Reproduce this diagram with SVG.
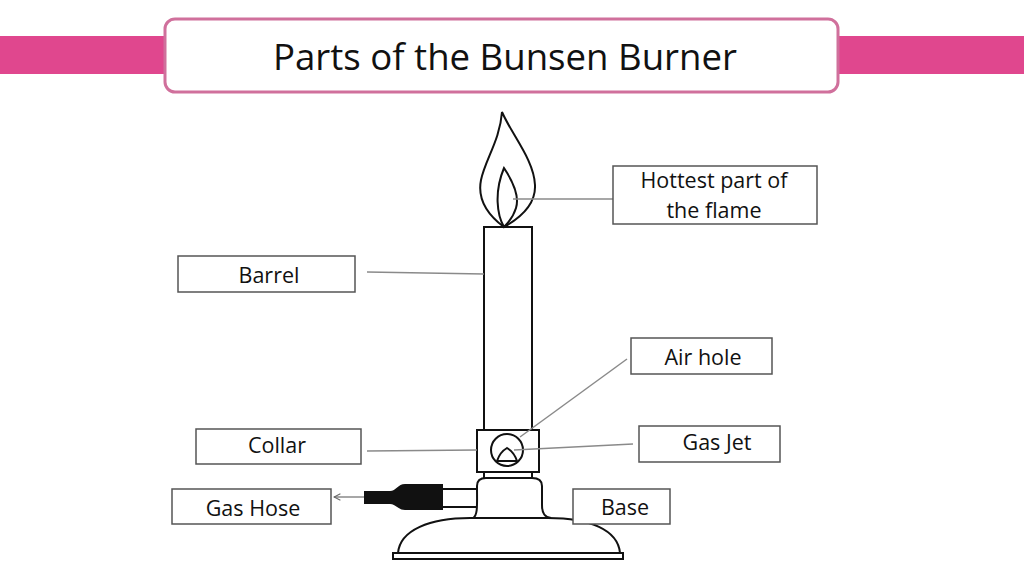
<svg xmlns="http://www.w3.org/2000/svg" width="1024" height="576" viewBox="0 0 1024 576">
<defs>
<style>
.lbl{fill:#fff;stroke:#555;stroke-width:1.5}
.txt{font-family:"Open Sans","Noto Sans",sans-serif;font-size:21.5px;fill:#111;text-anchor:middle}
.lead{stroke:#8a8a8a;stroke-width:1.5;fill:none}
.ink{stroke:#111;stroke-width:2;fill:#fff}
</style>
<marker id="open" viewBox="0 0 10 10" refX="9" refY="5" markerWidth="8" markerHeight="8" orient="auto" markerUnits="userSpaceOnUse">
<path d="M1,1 L9,5 L1,9" fill="none" stroke="#666" stroke-width="1.3"/>
</marker>
</defs>
<rect width="1024" height="576" fill="#fff"/>
<g id="title">
<rect x="0" y="36" width="1024" height="38" fill="#E0478E"/>
<rect x="165" y="19" width="673" height="73" rx="10" fill="#fff" stroke="#D0709C" stroke-width="3"/>
<text x="505" y="70" font-family="'Open Sans','Noto Sans',sans-serif" font-size="37" fill="#111" text-anchor="middle" textLength="464" lengthAdjust="spacingAndGlyphs">Parts of the Bunsen Burner</text>
</g>
<g id="burner">
<path class="ink" d="M398,553 C400,530 430,518 470,518 L548,518 C590,518 618,530 620,553 Z"/>
<rect class="ink" x="393" y="553" width="230" height="6"/>
<path class="ink" d="M473,518 C478,515 477,505 477,486 C477,481 480,478 486,478 L532,478 C539,478 542,481 542,486 L542,505 C542,514 545,517 551,518 Z"/>
<line x1="443" y1="489" x2="477" y2="489" stroke="#111" stroke-width="2"/>
<line x1="443" y1="507" x2="477" y2="507" stroke="#111" stroke-width="2"/>
<path d="M443,484 L443,510 L405,510 C398,510 396,504 390,504 L364,504 L364,491 L390,491 C396,491 398,484 405,484 Z" fill="#111"/>
<line x1="484" y1="472" x2="484" y2="478" stroke="#111" stroke-width="2"/>
<line x1="532" y1="472" x2="532" y2="478" stroke="#111" stroke-width="2"/>
<rect class="ink" x="477" y="430" width="62" height="42"/>
<circle class="ink" cx="507" cy="450" r="16"/>
<path d="M497,461 Q500,452 507,448 Q514,452 517,461 Z" fill="none" stroke="#111" stroke-width="2"/>
<rect class="ink" x="484" y="227" width="48" height="203"/>
<path class="ink" stroke-width="2.5" d="M504,227 C488,215 477,200 481,180 C485,160 500,140 502,112 C512,135 534,160 535,185 C536,205 520,218 504,227 Z"/>
<path class="ink" stroke-width="2.5" d="M504,227 C497,215 494,192 504,168 C512,180 520,195 516,208 C513,218 507,224 504,227 Z"/>
</g>
<g id="connectors">
<line class="lead" x1="513" y1="199" x2="613" y2="199"/>
<line class="lead" x1="367" y1="272" x2="484" y2="274"/>
<line class="lead" x1="627" y1="359" x2="520" y2="437"/>
<line class="lead" x1="633" y1="444" x2="514" y2="450"/>
<line class="lead" x1="367" y1="451" x2="477" y2="450"/>
<line class="lead" x1="364" y1="497" x2="334" y2="497" marker-end="url(#open)"/>
</g>
<g id="hottest">
<rect class="lbl" x="613" y="166" width="204" height="58"/>
<text class="txt" x="714" y="188">Hottest part of</text>
<text class="txt" x="714" y="218">the flame</text>
</g>
<g id="barrel">
<rect class="lbl" x="178" y="256" width="177" height="36"/>
<text class="txt" x="269" y="283">Barrel</text>
</g>
<g id="airhole">
<rect class="lbl" x="631" y="338" width="141" height="36"/>
<text class="txt" x="703" y="365">Air hole</text>
</g>
<g id="gasjet">
<rect class="lbl" x="639" y="426" width="141" height="36"/>
<text class="txt" x="717" y="450">Gas Jet</text>
</g>
<g id="collar">
<rect class="lbl" x="196" y="429" width="165" height="35"/>
<text class="txt" x="277" y="453">Collar</text>
</g>
<g id="gashose">
<rect class="lbl" x="172" y="489" width="159" height="35"/>
<text class="txt" x="253" y="516">Gas Hose</text>
</g>
<g id="base">
<rect class="lbl" x="573" y="489" width="97" height="35"/>
<text class="txt" x="625" y="515">Base</text>
</g>
</svg>
